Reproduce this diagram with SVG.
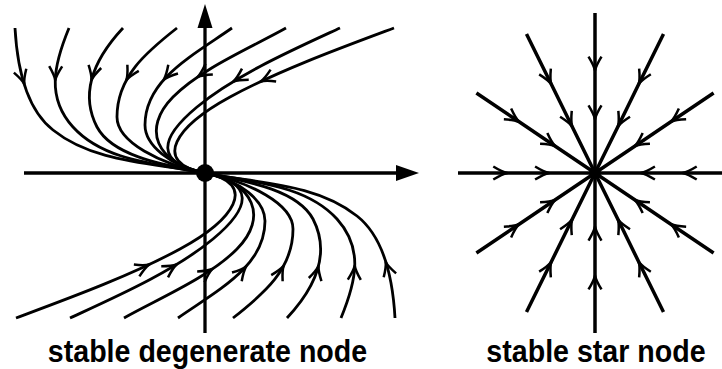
<svg xmlns="http://www.w3.org/2000/svg" xmlns:xlink="http://www.w3.org/1999/xlink" width="722" height="369" viewBox="0 0 722 369">
  <style>
    .flow { fill: none; stroke: #000; stroke-width: 2.8; stroke-linecap: butt; }
    .axis { fill: none; stroke: #000; stroke-width: 3.3; }
    .ray { fill: none; stroke: #000; stroke-width: 3.5; marker-mid: url(#vtip); }
    .head { fill: #000; stroke: none; }
    .label { font-family: "Liberation Sans", Arial, Helvetica, sans-serif; font-weight: bold; font-size: 28.6px; fill: #000; text-anchor: middle; }
  </style>
  <defs>
    <path id="ah" d="M-14,-6.5 Q-5,-1 0,0 Q-5,1 -14,6.5" fill="none" stroke="#000" stroke-width="2.5" stroke-linejoin="round"/>
    <marker id="vtip" markerUnits="userSpaceOnUse" viewBox="-17 -9 19 18" markerWidth="19" markerHeight="18" refX="0" refY="0" orient="auto" overflow="visible">
      <path d="M-14,-6.5 Q-5,-1 0,0 Q-5,1 -14,6.5" fill="none" stroke="#000" stroke-width="2.5" stroke-linejoin="round"/>
    </marker>
  </defs>

  <!-- Left: stable degenerate node -->
  <g id="degenerate-node">
    <g id="axes-left">
      <line class="axis" x1="24" y1="173" x2="399" y2="173"/>
      <polygon class="head" points="396,165 419,173 396,181"/>
      <line class="axis" x1="205" y1="333" x2="205" y2="26"/>
      <polygon class="head" points="197.5,28 205,4 212.5,28"/>
    </g>
    <g id="top-flow">
      <path class="flow" d="M15,28 C17,64 25,108 53,130 C94,163 153,162.6 205,173"/>
      <path class="flow" d="M69,28 C53.8,64.8 46.2,97.4 73,127 C104.5,161.8 159,163.8 205,173"/>
      <path class="flow" d="M123,28 C96,57 78.6,91.4 97,127 C113,157 166.8,165.4 205,173"/>
      <path class="flow" d="M177,28 C145.4,52.8 117,77 117,117 C117,142 160,164 205,173"/>
      <path class="flow" d="M232,28 C191,56.5 145,80 145,125 C145,145 170,166 205,173"/>
      <path class="flow" d="M286,28 C251,47.6 201,68.6 173,97 C141.5,129 156,163.2 205,173"/>
      <path class="flow" d="M340,28 C294.5,49 235.5,75 197,107 C158.5,139 155,163 205,173"/>
      <path class="flow" d="M394,28 C342.3,47.3 278.4,70.6 230,97 C177.2,125.8 150,162 205,173"/>
      <use xlink:href="#ah" href="#ah" transform="translate(24.3,84) rotate(72.5)"/>
      <use xlink:href="#ah" href="#ah" transform="translate(55.3,80.2) rotate(91.6)"/>
      <use xlink:href="#ah" href="#ah" transform="translate(91.5,80) rotate(104)"/>
      <use xlink:href="#ah" href="#ah" transform="translate(126.4,80.1) rotate(118.5)"/>
      <use xlink:href="#ah" href="#ah" transform="translate(163.8,79.6) rotate(131.8)"/>
      <use xlink:href="#ah" href="#ah" transform="translate(197.6,77) rotate(145.6)"/>
      <use xlink:href="#ah" href="#ah" transform="translate(233.4,81.5) rotate(148.7)"/>
      <use xlink:href="#ah" href="#ah" transform="translate(260.7,81.5) rotate(154.8)"/>
    </g>
    <use id="bottom-flow" xlink:href="#top-flow" href="#top-flow" transform="rotate(180 205 173)"/>
    <circle cx="205" cy="173" r="9" fill="#000"/>
  </g>

  <!-- Right: stable star node -->
  <g id="star-node">
    <path class="ray" d="M595,13 L595,70.6 L595,119.4 L595,173"/>
    <path class="ray" d="M595,333 L595,275.4 L595,226.6 L595,173"/>
    <path class="ray" d="M458,173 L507.3,173 L549.1,173 L595,173"/>
    <path class="ray" d="M732,173 L682.7,173 L640.9,173 L595,173"/>
    <path class="ray" d="M526.5,34 L551.2,84 L572.1,126.4 L595,173"/>
    <path class="ray" d="M663.5,34 L638.8,84 L618,126.4 L595,173"/>
    <path class="ray" d="M526.5,312 L551.2,262 L572.1,219.6 L595,173"/>
    <path class="ray" d="M663.5,312 L638.8,262 L618,219.6 L595,173"/>
    <path class="ray" d="M476.4,93 L519.1,121.8 L555.3,146.2 L595,173"/>
    <path class="ray" d="M713.6,93 L670.9,121.8 L634.7,146.2 L595,173"/>
    <path class="ray" d="M476.4,253 L519.1,224.2 L555.3,199.8 L595,173"/>
    <path class="ray" d="M713.6,253 L670.9,224.2 L634.7,199.8 L595,173"/>
    <circle cx="595" cy="173" r="6" fill="#000"/>
  </g>

  <g id="labels">
    <text class="label" transform="translate(207.5,362) scale(1,1.07)">stable degenerate node</text>
    <text class="label" transform="translate(596,362) scale(1,1.07)">stable star node</text>
  </g>
</svg>
